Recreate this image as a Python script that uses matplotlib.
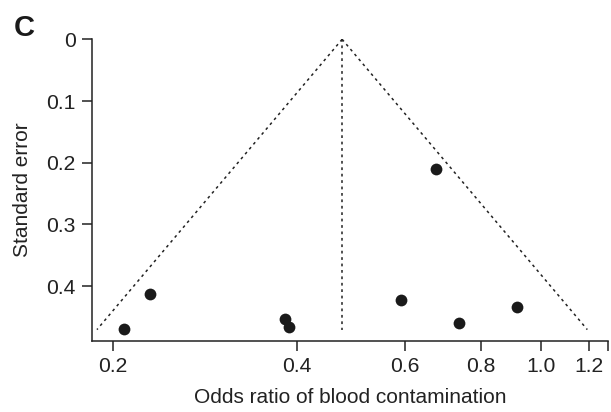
import numpy as np
import matplotlib
matplotlib.use("Agg")
import matplotlib.pyplot as plt
from matplotlib.ticker import FixedLocator, NullFormatter

plt.rcParams['font.family'] = ['Liberation Sans', 'DejaVu Sans']

# study estimates (odds ratio, standard error)
odds_ratio = [0.674, 0.230, 0.2085, 0.3824, 0.3886, 0.5923, 0.7348, 0.9142]
std_error = [0.2107, 0.4123, 0.470, 0.4533, 0.4658, 0.422, 0.4593, 0.4339]

# pooled estimate and funnel depth
pooled_or = 0.474
se_max = 0.4705

x_ticks = [0.2, 0.4, 0.6, 0.8, 1.0, 1.2]
x_tick_labels = ["0.2", "0.4", "0.6", "0.8", "1.0", "1.2"]
y_ticks = [0, 0.1, 0.2, 0.3, 0.4]
y_tick_labels = ["0", "0.1", "0.2", "0.3", "0.4"]

fig = plt.figure(figsize=(6.11, 4.12), dpi=100)
ax = fig.add_axes([0.1501, 0.1723, 0.8455, 0.7323])

# funnel lines (95% limits on log scale)
se_line = np.array([0, se_max])
center = np.log(pooled_or)
dots = (0, (1.8, 2.4))
ax.plot(np.exp(center - 1.96 * se_line), se_line, color="#222222", lw=1.1, ls=dots)
ax.plot(np.exp(center + 1.96 * se_line), se_line, color="#222222", lw=1.1, ls=dots)
ax.plot([pooled_or, pooled_or], se_line, color="#222222", lw=1.1, ls=dots)

ax.scatter(odds_ratio, std_error, s=72, color="#1a1a1a", zorder=3, linewidths=0)

ax.set_xscale("log")
ax.set_xlim(0.1848, 1.29)
ax.set_ylim(0.489, 0)

ax.xaxis.set_major_locator(FixedLocator(x_ticks))
ax.set_xticklabels(x_tick_labels)
ax.xaxis.set_minor_locator(FixedLocator([1.289]))
ax.xaxis.set_minor_formatter(NullFormatter())
ax.set_yticks(y_ticks)
ax.set_yticklabels(y_tick_labels)

ax.tick_params(axis="both", which="both", length=7, width=1.1, color="#222222",
               labelsize=15.2, labelcolor="#222222", pad=4.5)

for side in ["top", "right"]:
    ax.spines[side].set_visible(False)
for side in ["left", "bottom"]:
    ax.spines[side].set_linewidth(1.1)
    ax.spines[side].set_color("#222222")

ax.set_xlabel("Odds ratio of blood contamination", fontsize=15, color="#222222", labelpad=9)
ax.set_ylabel("Standard error", fontsize=15, color="#222222", labelpad=10)

fig.text(0.022, 0.912, "C", fontsize=21, fontweight="bold", color="#1a1a1a")

fig.savefig("out.png", dpi=100)
